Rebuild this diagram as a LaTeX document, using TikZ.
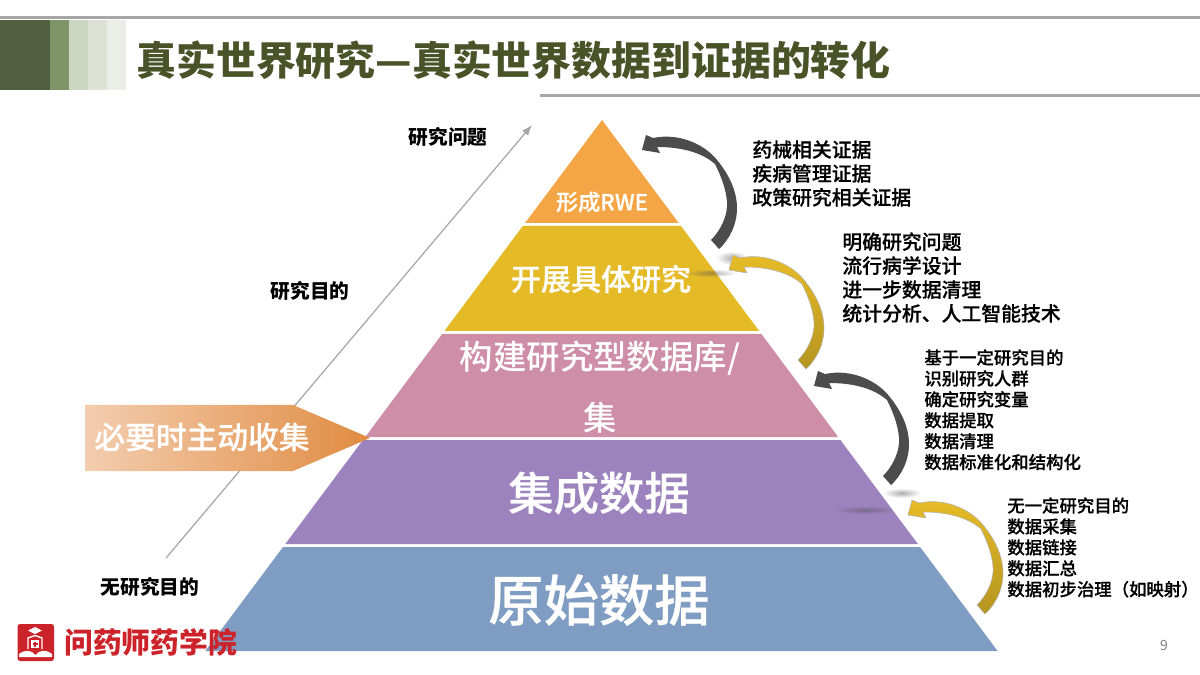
\documentclass[tikz,border=0pt]{standalone}
\usepackage{fontspec}
\setmainfont{Noto Sans CJK SC}
\newfontfamily\medfont{Noto Sans CJK SC Medium}
\newfontfamily\semifont[FakeBold=0.5]{Noto Sans CJK SC Medium}
\usetikzlibrary{calc,fadings,arrows.meta}

\definecolor{titlegreen}{HTML}{4A5228}
\definecolor{ruleg}{HTML}{A6A6A6}
\definecolor{logored}{HTML}{CC2229}
\definecolor{goldtop}{HTML}{E8BC28}
\definecolor{goldbot}{HTML}{B5951F}
\definecolor{peachl}{HTML}{F3CDAF}
\definecolor{peachr}{HTML}{E08C42}

\newcommand{\pxfont}[2]{\fontsize{#1}{#2}\selectfont}

\tikzfading[name=softblob, inner color=transparent!55, outer color=transparent!100]

\tikzset{
  listtext/.style={anchor=north west, align=left, inner sep=0pt, text=black, font=\semifont\pxfont{11.3}{13.6}},
  smalllist/.style={listtext, font=\semifont\pxfont{9.9}{11.9}},
  sidelabel/.style={inner sep=0pt, text=black, font=\pxfont{11.2}{13.6}\bfseries},
  tierlabel/.style={inner sep=0pt, text=white},
  darkbend/.style={fill=black!70},
  goldbend/.style={top color=goldtop, bottom color=goldbot, draw=black!30, line width=0.3pt},
  smudge/.style={black!70, path fading=softblob},
  pics/bendarrow/.style={code={
    \path[#1] (0,0) -- (4,-15) -- (11,-12)
      .. controls (40,-18) and (65,-3) .. (75,10)
      .. controls (90,28) and (95,45) .. (95,58)
      .. controls (95,75) and (87,90) .. (77,99) -- (69,90)
      .. controls (79,80) and (86,65) .. (85,52)
      .. controls (84,38) and (78,24) .. (73,14)
      .. controls (58,1) and (36,-3) .. (15,-3) -- (18,3) -- cycle;
  }},
}

\begin{document}
\begin{tikzpicture}[x=0.02cm, y=-0.02cm]
  \useasboundingbox (0,0) rectangle (1200,675);

  % header
  \fill [ruleg] (0,16.5) rectangle (1200,19.5);
  \fill [ruleg] (540,94) rectangle (1200,97);
  \foreach \xa/\xb/\col in {0/50/525F3E, 50/69/7E9667, 69/88/CBD5C0, 88/107/DCE3D6, 107/126/EAEEE6} {
    \definecolor{blockcol}{HTML}{\col}
    \fill [blockcol] (\xa,20) rectangle (\xb,90);
  }
  \node (title) [anchor=west, inner sep=0pt, text=titlegreen, font=\pxfont{22.7}{27}\bfseries] at (136,60)
    {真实世界研究—真实世界数据到证据的转化};

  % rising line
  \coordinate (lowend) at (166,558);
  \coordinate (highend) at (532,125);
  \draw [-{Latex[length=6pt,width=4.5pt]}, black!35, line width=0.7pt] (lowend) -- (highend);

  % pyramid tiers
  \coordinate (apex) at (602,120);
  \foreach \ya/\yb/\col in {120/223/F4A646, 226/331/E5BA27, 334/437/CE8FA6, 440/544/9C83BE, 547/651/7F9DC2} {
    \definecolor{tiercol}{HTML}{\col}
    \fill [tiercol] ($(apex)+({-0.747*(\ya-120)},\ya-120)$) -- ($(apex)+({0.745*(\ya-120)},\ya-120)$)
      -- ($(apex)+({0.745*(\yb-120)},\yb-120)$) -- ($(apex)+({-0.747*(\yb-120)},\yb-120)$) -- cycle;
  }
  \node (rwe)     [tierlabel, font=\semifont\pxfont{12.6}{15}] at (602,202) {形成RWE};
  \node (study)   [tierlabel, font=\semifont\pxfont{17.1}{20}] at (601,279) {开展具体研究};
  \node (build)   [tierlabel, font=\medfont\pxfont{19}{22}] at (600,358) {构建研究型数据库/};
  \node (buildb)  [tierlabel, font=\medfont\pxfont{19}{22}] at (600,418) {集};
  \node (merge)   [tierlabel, font=\semifont\pxfont{25.8}{30}] at (599,493) {集成数据};
  \node (rawdata) [tierlabel, font=\semifont\pxfont{31.5}{36}] at (599,600) {原始数据};

  % collection arrow
  \shade [left color=peachl, right color=peachr]
    (85,405) -- (293,405) -- (370,438) -- (293,471) -- (85,471) -- cycle;
  \node (collect) [tierlabel, font=\semifont\pxfont{17.5}{20}] at (202,437) {必要时主动收集};

  % side labels
  \node (question) [sidelabel] at (448,137) {研究问题};
  \node (purpose)  [sidelabel] at (310,291) {研究目的};
  \node (nopurpose)[sidelabel] at (150,587) {无研究目的};

  % bent arrows
  \fill [smudge] (711,273) ellipse [x radius=26, y radius=4];
  \fill [smudge] (732,258) ellipse [x radius=16, y radius=7];
  \fill [smudge] (865,510) ellipse [x radius=32, y radius=4];
  \fill [smudge] (902,493) ellipse [x radius=19, y radius=5];
  \pic at (642,150) {bendarrow=darkbend};
  \pic at (729,270) {bendarrow=goldbend};
  \pic at (814,386) {bendarrow=darkbend};
  \pic at (908,515) {bendarrow=goldbend};

  % lists
  \node (listone) [listtext] at (752,140) {药械相关证据\\疾病管理证据\\政策研究相关证据};
  \node (listtwo) [listtext] at (842,232) {明确研究问题\\流行病学设计\\进一步数据清理\\统计分析、人工智能技术};
  \node (listthree) [smalllist] at (924,349) {基于一定研究目的\\识别研究人群\\确定研究变量\\数据提取\\数据清理\\数据标准化和结构化};
  \node (listfour) [smalllist] at (1007,497) {无一定研究目的\\数据采集\\数据链接\\数据汇总\\数据初步治理（如映射）};

  % logo
  \fill [logored, rounded corners=1.5] (17.5,624) rectangle (54,661);
  \fill [white] (35,627) -- (42,630.5) -- (35,634) -- (28,630.5) -- cycle;
  \draw [white, line width=0.8pt] (28,649) -- (28,638) -- (35,635.5) -- (42,638) -- (42,649);
  \fill [white] (31,640) rectangle (39,648);
  \draw [logored, line width=0.7pt] (32.5,644) -- (37.5,644) (35,641.5) -- (35,646.5);
  \fill [white] (19,654) .. controls (26,649) and (31,650) .. (35.5,655) .. controls (40,650) and (45,649) .. (52,654) -- (52,657) -- (19,657) -- cycle;
  \node (school) [anchor=west, inner sep=0pt, text=logored, font=\pxfont{16.4}{20}\bfseries] at (64,642) {问药师药学院};

  \node (pagenum) [inner sep=0pt, text=black!50, font=\pxfont{8}{10}] at (1164,645) {9};
\end{tikzpicture}
\end{document}
